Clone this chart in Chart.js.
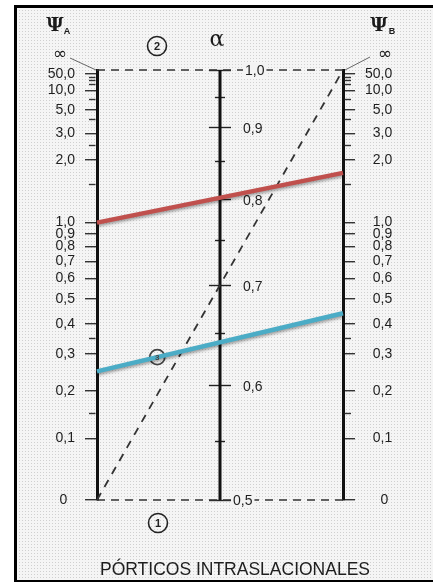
<!DOCTYPE html>
<html>
<head>
<meta charset="utf-8">
<script src="https://cdn.jsdelivr.net/npm/chart.js@4.4.1/dist/chart.umd.min.js"></script>
<style>
html,body{margin:0;padding:0;background:#fff;}
#wrap{position:relative;width:433px;height:583px;}
canvas{display:block;}
</style>
</head>
<body>
<div id="wrap"><canvas id="c" width="433" height="583"></canvas></div>
<script>
// ---------------- data ----------------
const axisSlots = [0, 1, 2];                 // Ψ_A, α, Ψ_B on the x scale
const PSI_INF = 1e9;                         // stands for ∞
const psiMajorTicks = [0, 0.1, 0.2, 0.3, 0.4, 0.5, 0.6, 0.7, 0.8, 0.9, 1.0, 2.0, 3.0, 5.0, 10.0, 50.0];
const psiMinorTicks = [0.15, 0.35, 1.5, 2.5, 4.0, 7.0, 15.0, 20.0, 30.0];
const alphaMajorTicks = [0.5, 0.6, 0.7, 0.8, 0.9, 1.0];
const alphaMinorTicks = [0.55, 0.65, 0.75, 0.85, 0.95];
const alphaRange = [0.5, 1.0];
const redPsi = [1.0, 1.7];                   // [Ψ_A, Ψ_B]
const bluePsi = [0.25, 0.44];                // [Ψ_A, Ψ_B]
const diagonalPsi = [0, PSI_INF];            // [Ψ_A, Ψ_B]
const markerX = [0.49];
const markerPsi = [0.29];
const titleText = 'PÓRTICOS INTRASLACIONALES';

// ---------------- scale transforms ----------------
function psiPos(v) {
  if (v >= PSI_INF) return 1;
  if (v <= 0) return 0;
  return v / (v + 0.49 + 0.12 / (1 + v));
}
function alphaPos(a) {
  const t = (a - alphaRange[0]) / (alphaRange[1] - alphaRange[0]);
  return 1.42 * t - 0.42 * t * t;
}
function invert(fn, d, lo, hi) {
  for (let i = 0; i < 60; i++) { const m = (lo + hi) / 2; if (fn(m) < d) lo = m; else hi = m; }
  return (lo + hi) / 2;
}
class PsiScale extends Chart.LinearScale {
  static id = 'psi';
  static defaults = {};
  getPixelForValue(v) { if (v == null || isNaN(v)) return NaN; return this.getPixelForDecimal(psiPos(v)); }
  getValueForPixel(p) { return invert(psiPos, this.getDecimalForPixel(p), 0, 1e6); }
}
class AlphaScale extends Chart.LinearScale {
  static id = 'alpha';
  static defaults = {};
  getPixelForValue(v) { if (v == null || isNaN(v)) return NaN; return this.getPixelForDecimal(alphaPos(v)); }
  getValueForPixel(p) { return invert(alphaPos, this.getDecimalForPixel(p), alphaRange[0], alphaRange[1]); }
}
Chart.register(PsiScale, AlphaScale);

const fmt = v => v === 0 ? '0' : v.toFixed(1).replace('.', ',');
const FS = '\u2007'; // figure space, same width as a digit
const fmtLeft = v => v === 0 ? '0' + FS : fmt(v);
const fmtRight = v => v === 0 ? FS + FS + '0' : (v < 10 ? FS + fmt(v) : fmt(v));
const TXT = '#1e1e1e';
const SANS = '"Liberation Sans", Arial, sans-serif';

// ---------------- decoration plugin ----------------
function seg(ctx, x1, y1, x2, y2) { ctx.beginPath(); ctx.moveTo(x1, y1); ctx.lineTo(x2, y2); ctx.stroke(); }

const nomoPlugin = {
  id: 'nomo',
  beforeDraw(chart) {
    const ctx = chart.ctx;
    ctx.save();
    ctx.fillStyle = '#fff';
    ctx.fillRect(0, 0, chart.width, chart.height);
    const pc = document.createElement('canvas');
    pc.width = 3; pc.height = 3;
    const p = pc.getContext('2d');
    p.fillStyle = '#f5f5f5'; p.fillRect(0, 0, 3, 3);
    p.fillStyle = '#d0d0d0'; p.fillRect(1, 1, 1, 1);
    ctx.fillStyle = ctx.createPattern(pc, 'repeat');
    ctx.fillRect(15, 6, chart.width - 15, 575);
    ctx.strokeStyle = '#000';
    ctx.lineWidth = 3;
    seg(ctx, 15.5, 5, 15.5, 582);
    seg(ctx, 14, 6.5, chart.width, 6.5);
    ctx.lineWidth = 2;
    seg(ctx, 14, 581, chart.width, 581);
    ctx.restore();
  },
  beforeDatasetsDraw(chart) {
    const ctx = chart.ctx;
    const xs = chart.scales.x, ya = chart.scales.yAlpha, yp = chart.scales.yA;
    const xl = xs.getPixelForValue(axisSlots[0]);
    const cx = xs.getPixelForValue(axisSlots[1]);
    const xr = xs.getPixelForValue(axisSlots[2]);
    ctx.save();
    ctx.strokeStyle = '#333';
    ctx.lineWidth = 1.4;
    psiMinorTicks.forEach(v => {
      const y = Math.round(yp.getPixelForValue(v)) + 0.5;
      seg(ctx, xl - 1.5, y, xl - 8, y);
      seg(ctx, xr + 1.5, y, xr + 8, y);
    });
    ctx.strokeStyle = '#222';
    alphaMajorTicks.forEach(v => {
      const y = Math.round(ya.getPixelForValue(v)) + 0.5;
      seg(ctx, cx - 11, y, cx + 11, y);
    });
    alphaMinorTicks.forEach(v => {
      const y = Math.round(ya.getPixelForValue(v)) + 0.5;
      seg(ctx, cx - 5, y, cx + 5, y);
    });
    ctx.fillStyle = TXT;
    ctx.font = '14px ' + SANS;
    ctx.textAlign = 'left';
    ctx.textBaseline = 'middle';
    alphaMajorTicks.forEach(v => {
      if (v === alphaRange[0] || v === alphaRange[1]) return;
      ctx.fillText(fmt(v), cx + 23, ya.getPixelForValue(v) + 2);
    });
    ctx.restore();
  },
  afterDatasetsDraw(chart) {
    const ctx = chart.ctx;
    const xs = chart.scales.x, ya = chart.scales.yAlpha, yp = chart.scales.yA;
    const xl = xs.getPixelForValue(axisSlots[0]);
    const cx = xs.getPixelForValue(axisSlots[1]);
    const xr = xs.getPixelForValue(axisSlots[2]);
    const yTop = yp.getPixelForValue(PSI_INF);
    ctx.save();
    // end labels of α with backdrop
    ctx.font = '14px ' + SANS;
    ctx.textBaseline = 'middle';
    ctx.textAlign = 'left';
    [[alphaRange[1], 25], [alphaRange[0], 13]].forEach(([v, dx]) => {
      const y = ya.getPixelForValue(v);
      const s = fmt(v);
      const w = ctx.measureText(s).width;
      ctx.fillStyle = '#f3f3f3';
      ctx.fillRect(cx + dx - 2, y - 7, w + 4, 14);
      ctx.fillStyle = TXT;
      ctx.fillText(s, cx + dx, y + 1);
    });
    // ∞ connectors
    ctx.strokeStyle = '#666';
    ctx.lineWidth = 1;
    seg(ctx, 70, 58, xl - 1, yTop);
    seg(ctx, xr + 2, yTop, xr + 27, yTop - 13);
    // marker inner digit
    const mk = chart.getDatasetMeta(4).data[0];
    ctx.fillStyle = '#444';
    ctx.font = 'bold 8px ' + SANS;
    ctx.textAlign = 'center';
    ctx.fillText('3', mk.x, mk.y + 0.5);
    // headings
    ctx.fillStyle = '#1a1a1a';
    ctx.textBaseline = 'alphabetic';
    ctx.font = 'bold 19px "DejaVu Serif", serif';
    ctx.fillText('\u03A8', 55, 31);
    ctx.fillText('\u03A8', 379, 31);
    ctx.font = 'bold 9px ' + SANS;
    ctx.fillText('A', 67, 34);
    ctx.fillText('B', 392, 34);
    ctx.font = '22px "DejaVu Serif", serif';
    ctx.fillText('\u03B1', 217, 46);
    ctx.font = '17px "DejaVu Sans", sans-serif';
    ctx.textBaseline = 'middle';
    ctx.fillText('\u221E', 60, 55);
    ctx.fillText('\u221E', 385, 55);
    // circled numbers
    [['2', 157, 46], ['1', 158, 523]].forEach(([t, x, y]) => {
      ctx.beginPath();
      ctx.arc(x, y, 9.5, 0, Math.PI * 2);
      ctx.lineWidth = 1.6;
      ctx.strokeStyle = '#222';
      ctx.stroke();
      ctx.font = 'bold 11px ' + SANS;
      ctx.fillStyle = '#222';
      ctx.fillText(t, x, y + 1);
    });
    // title
    ctx.font = '17.5px ' + SANS;
    ctx.fillStyle = TXT;
    ctx.textBaseline = 'alphabetic';
    ctx.fillText(titleText, 235, 575);
    ctx.restore();
  },
  beforeDatasetDraw(chart, args) {
    const ds = chart.data.datasets[args.index];
    if (ds.shadow) {
      chart.ctx.save();
      chart.ctx.shadowColor = 'rgba(0,0,0,0.35)';
      chart.ctx.shadowBlur = 3;
      chart.ctx.shadowOffsetY = 2;
    }
  },
  afterDatasetDraw(chart, args) {
    const ds = chart.data.datasets[args.index];
    if (ds.shadow) chart.ctx.restore();
  }
};

// ---------------- chart ----------------
const lineBase = { showLine: true, pointRadius: 0, clip: false, xAxisID: 'x', yAxisID: 'yA', fill: false };
const datasets = [
  Object.assign({}, lineBase, { label: 'top', data: [{x: axisSlots[0], y: PSI_INF}, {x: axisSlots[2], y: PSI_INF}],
    borderColor: '#333', borderWidth: 1.6, borderDash: [8, 6], order: 10 }),
  Object.assign({}, lineBase, { label: 'bottom', data: [{x: axisSlots[0], y: 0}, {x: axisSlots[2], y: 0}],
    borderColor: '#333', borderWidth: 1.6, borderDash: [8, 6], order: 10 }),
  Object.assign({}, lineBase, { label: 'alpha', yAxisID: 'yAlpha', data: [{x: axisSlots[1], y: alphaRange[0]}, {x: axisSlots[1], y: alphaRange[1]}],
    borderColor: '#111', borderWidth: 3, order: 9 }),
  Object.assign({}, lineBase, { label: 'diagonal', data: [{x: axisSlots[0], y: diagonalPsi[0]}, {x: axisSlots[2], y: diagonalPsi[1]}],
    borderColor: '#333', borderWidth: 1.8, borderDash: [8, 7], order: 8 }),
  { label: 'marker', showLine: false, xAxisID: 'x', yAxisID: 'yA', clip: false,
    data: markerX.map((x, i) => ({x, y: markerPsi[i]})),
    pointRadius: 7.5, pointBorderWidth: 1.8, pointBorderColor: '#444', pointBackgroundColor: 'rgba(0,0,0,0)', order: 5 },
  Object.assign({}, lineBase, { label: 'red', data: [{x: axisSlots[0], y: redPsi[0]}, {x: axisSlots[2], y: redPsi[1]}],
    borderColor: '#c0504d', borderWidth: 4.5, borderCapStyle: 'butt', order: 2, shadow: true }),
  Object.assign({}, lineBase, { label: 'blue', data: [{x: axisSlots[0], y: bluePsi[0]}, {x: axisSlots[2], y: bluePsi[1]}],
    borderColor: '#4bacc6', borderWidth: 4.5, borderCapStyle: 'butt', order: 1, shadow: true })
];

const psiAxis = (position, width) => ({
  type: 'psi', axis: 'y', position, min: 0, max: PSI_INF,
  afterBuildTicks: s => { s.ticks = psiMajorTicks.map(v => ({value: v})); },
  afterFit: s => { s.width = width; },
  ticks: { autoSkip: false, callback: position === 'left' ? fmtLeft : fmtRight, color: TXT, padding: 10,
           crossAlign: 'near', font: { family: SANS, size: 14 } },
  grid: { display: true, drawOnChartArea: false, drawTicks: true, tickLength: 12, color: '#333', lineWidth: 1.4 },
  border: { display: true, color: '#111', width: 3 }
});

new Chart(document.getElementById('c'), {
  type: 'scatter',
  data: { datasets },
  options: {
    responsive: false,
    animation: false,
    events: [],
    layout: { padding: { left: 0, right: 0, top: 70, bottom: 83 } },
    plugins: { legend: { display: false }, tooltip: { enabled: false } },
    scales: {
      x: { type: 'linear', min: axisSlots[0], max: axisSlots[2], display: false },
      yA: psiAxis('left', 97),
      yB: psiAxis('right', 90),
      yAlpha: { type: 'alpha', axis: 'y', min: alphaRange[0], max: alphaRange[1], display: false }
    }
  },
  plugins: [nomoPlugin]
});
</script>
</body>
</html>
